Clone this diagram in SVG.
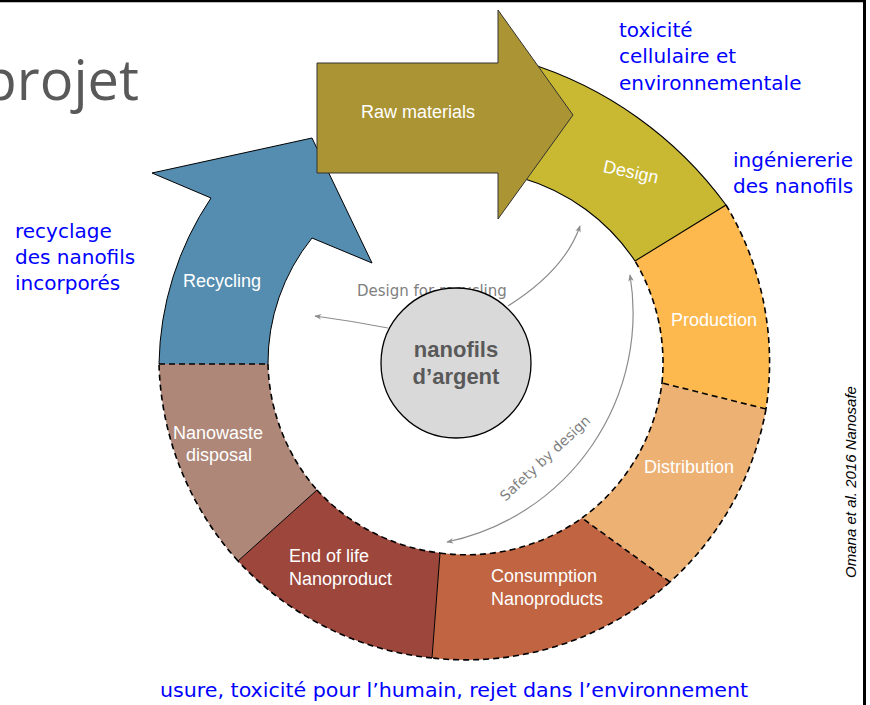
<svg xmlns="http://www.w3.org/2000/svg" width="870" height="705" viewBox="0 0 870 705">
<style>
.lbl{font-family:"Liberation Sans",Arial,sans-serif;font-size:18px;fill:#ffffff}
.ann{font-family:"DejaVu Sans","Noto Sans",sans-serif;font-size:20px;fill:#0000ff}
.gry{font-family:"DejaVu Sans","Noto Sans",sans-serif;font-size:15px;fill:#7f7f7f}
.dash{fill:none;stroke:#000;stroke-width:1.6;stroke-dasharray:6 4}
.solid{fill:none;stroke:#000;stroke-width:1}
.conn{fill:none;stroke:#8c8c8c;stroke-width:1.2}
</style>
<defs>
<marker id="ah" viewBox="0 0 10 10" refX="9" refY="5" markerWidth="7" markerHeight="7" orient="auto-start-reverse" markerUnits="userSpaceOnUse">
<path d="M0,1 L10,5 L0,9 L3,5 Z" fill="#8c8c8c"/>
</marker>
</defs>
<rect width="870" height="705" fill="#fff"/>
<line x1="0" y1="1" x2="866" y2="1" stroke="#000" stroke-width="2.5"/>
<line x1="864.5" y1="0" x2="864.5" y2="705" stroke="#000" stroke-width="3"/>
<text x="139" y="100" text-anchor="end" style="font-family:'Open Sans','Noto Sans',sans-serif;font-size:56px;fill:#595959">projet</text>

<g id="production">
<path d="M726 205 A306 306 0 0 1 766 409 L662 383 A199 199 0 0 0 635 261 Z" fill="#fdb94e"/>
<path class="dash" d="M726 205 A306 306 0 0 1 766 409 M662 383 A199 199 0 0 0 635 261"/>
<text class="lbl" x="714" y="326" text-anchor="middle">Production</text>
</g>
<g id="distribution">
<path d="M766 409 A306 306 0 0 1 670 582 L582 518 A199 199 0 0 0 662 383 Z" fill="#ecb173"/>
<path class="dash" d="M766 409 A306 306 0 0 1 670 582 M582 518 A199 199 0 0 0 662 383"/>
<text class="lbl" x="689" y="473" text-anchor="middle">Distribution</text>
</g>
<g id="consumption">
<path d="M670 582 A306 306 0 0 1 432 658 L440 553 A199 199 0 0 0 582 518 Z" fill="#c06441"/>
<path class="dash" d="M670 582 A306 306 0 0 1 432 658 M440 553 A199 199 0 0 0 582 518"/>
<text class="lbl" x="491" y="582">Consumption</text>
<text class="lbl" x="491" y="605">Nanoproducts</text>
</g>
<g id="nanowaste">
<path d="M238 561 A306 306 0 0 1 159 364 L268 364 A199 199 0 0 0 317 490 Z" fill="#ae8778"/>
<path class="dash" d="M238 561 A306 306 0 0 1 159 364 M268 364 A199 199 0 0 0 317 490"/>
<text class="lbl" x="218" y="439" text-anchor="middle">Nanowaste</text>
<text class="lbl" x="219" y="461" text-anchor="middle">disposal</text>
</g>
<g id="endoflife">
<path d="M432 658 A306 306 0 0 1 238 561 L317 490 A199 199 0 0 0 440 553 Z" fill="#9c463c"/>
<path class="dash" d="M432 658 A306 306 0 0 1 238 561 M317 490 A199 199 0 0 0 440 553"/>
<path class="solid" d="M432 658 L440 553 M238 561 L317 490"/>
<text class="lbl" x="289" y="562">End of life</text>
<text class="lbl" x="289" y="585">Nanoproduct</text>
</g>
<g id="recycling">
<path d="M159 364 A306 306 0 0 1 211 198 L152 173 L312 138 L372 263 L312 238 A199 199 0 0 0 268 364 Z" fill="#548db0"/>
<path class="solid" d="M159 364 A306 306 0 0 1 211 198 L152 173 L312 138 L372 263 L312 238 A199 199 0 0 0 268 364"/>
<text class="lbl" x="222" y="287" text-anchor="middle">Recycling</text>
</g>
<g id="separators">
<path class="dash" d="M766 409 L662 383 M670 582 L582 518 M159 364 L268 364"/>
</g>
<g id="design">
<path d="M525 62 A390 390 0 0 1 726 205 L635 261 A205 205 0 0 0 522 178 Z" fill="#c8b832" stroke="#000" stroke-width="1.1"/>
<text class="lbl" x="631" y="178" text-anchor="middle" transform="rotate(12 631 172)">Design</text>
</g>
<g id="raw">
<path d="M317 63 L498 63 L498 10 L573 115 L498 219 L498 173 L317 173 Z" fill="#ab9433" stroke="#333" stroke-width="1"/>
<text class="lbl" x="418" y="118" text-anchor="middle">Raw materials</text>
</g>

<g id="connectors">
<path class="conn" d="M508 306 Q565 270 580 226" marker-end="url(#ah)"/>
<path class="conn" d="M388 328 Q352 321 315 316" marker-end="url(#ah)"/>
<path class="conn" d="M630 275 A234 234 0 0 1 447 542" marker-start="url(#ah)" marker-end="url(#ah)"/>
</g>
<text class="gry" x="357" y="296">Design for recycling</text>
<text class="gry" x="545" y="463" text-anchor="middle" style="font-size:14px" transform="rotate(-43 545 458)">Safety by design</text>

<g id="center">
<circle cx="456" cy="363" r="75" fill="#d9d9d9" stroke="#000" stroke-width="1.3"/>
<text x="456" y="357" text-anchor="middle" style="font-family:'Liberation Sans',Arial,sans-serif;font-weight:bold;font-size:22px;fill:#595959">nanofils</text>
<text x="456" y="384" text-anchor="middle" style="font-family:'Liberation Sans',Arial,sans-serif;font-weight:bold;font-size:22px;fill:#595959">d’argent</text>
</g>

<text class="ann" x="619" y="37">toxicité</text>
<text class="ann" x="619" y="63">cellulaire et</text>
<text class="ann" x="619" y="90">environnementale</text>
<text class="ann" x="733" y="167">ingéniererie</text>
<text class="ann" x="733" y="193">des nanofils</text>
<text class="ann" x="15" y="238">recyclage</text>
<text class="ann" x="15" y="264">des nanofils</text>
<text class="ann" x="15" y="290">incorporés</text>
<text class="ann" x="160" y="697" textLength="588" lengthAdjust="spacingAndGlyphs">usure, toxicité pour l’humain, rejet dans l’environnement</text>
<text x="0" y="0" text-anchor="middle" transform="translate(856 482) rotate(-90)" style="font-family:'Liberation Sans',Arial,sans-serif;font-style:italic;font-size:15px;fill:#000">Omana et al. 2016 Nanosafe</text>
</svg>
